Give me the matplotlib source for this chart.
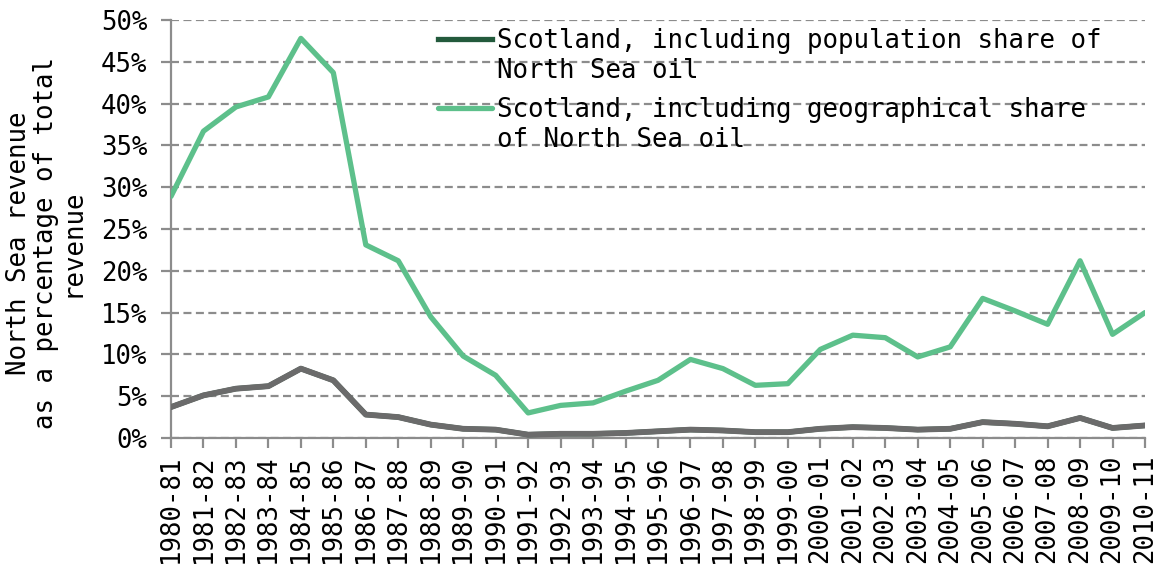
import matplotlib
matplotlib.use('agg')
import matplotlib.pyplot as plt
from matplotlib.legend_handler import HandlerLine2D
from matplotlib.ticker import PercentFormatter, MultipleLocator

years = ['1980-81', '1981-82', '1982-83', '1983-84', '1984-85', '1985-86',
         '1986-87', '1987-88', '1988-89', '1989-90', '1990-91', '1991-92',
         '1992-93', '1993-94', '1994-95', '1995-96', '1996-97', '1997-98',
         '1998-99', '1999-00', '2000-01', '2001-02', '2002-03', '2003-04',
         '2004-05', '2005-06', '2006-07', '2007-08', '2008-09', '2009-10',
         '2010-11']

population_share = [3.7, 5.1, 5.9, 6.2, 8.3, 6.9, 2.8, 2.5, 1.6, 1.1, 1.0, 0.4,
                    0.5, 0.5, 0.6, 0.8, 1.0, 0.9, 0.7, 0.7, 1.1, 1.3, 1.2, 1.0,
                    1.1, 1.9, 1.7, 1.4, 2.4, 1.2, 1.5]

geographical_share = [28.9, 36.7, 39.6, 40.8, 47.8, 43.7, 23.1, 21.2, 14.5, 9.8,
                      7.5, 3.0, 3.9, 4.2, 5.6, 6.9, 9.4, 8.3, 6.3, 6.5, 10.6,
                      12.3, 12.0, 9.7, 10.9, 16.7, 15.2, 13.6, 21.2, 12.4, 15.0]

labels = ['Scotland, including population share of\nNorth Sea oil',
          'Scotland, including geographical share\nof North Sea oil']

FONT = 'DejaVu Sans Mono'
FS = 18.5
AXC = '#8c8c8c'


class TopLineHandler(HandlerLine2D):
    # put the legend line level with the first text line
    def create_artists(self, legend, orig_handle, xdescent, ydescent,
                       width, height, fontsize, trans):
        arts = super().create_artists(legend, orig_handle, xdescent, ydescent,
                                      width, height, fontsize, trans)
        for a in arts:
            a.set_ydata([y + fontsize * 0.7 for y in a.get_ydata()])
        return arts


plt.rcParams['font.family'] = FONT

fig = plt.figure(figsize=(11.61, 5.70), dpi=100)
ax = fig.add_axes([171 / 1161, 1 - 438 / 570, 974 / 1161, 418 / 570])

x = list(range(len(years)))
ax.plot(x, geographical_share, color='#5dc08b', lw=3.8, solid_capstyle='round',
        label=labels[1], zorder=3)
ax.plot(x, population_share, color='#235a3c', lw=3.8, label=labels[0], zorder=3)
ax.plot(x, population_share, color='#6b6b6b', lw=4.2, zorder=4)

ax.set_xlim(0, len(years) - 1)
ax.set_ylim(0, 50)
ax.yaxis.set_major_locator(MultipleLocator(5))
ax.yaxis.set_major_formatter(PercentFormatter(decimals=0))
ax.set_xticks(x)
ax.set_xticklabels(years, rotation=90, fontsize=FS, family=FONT)
for t in ax.get_yticklabels():
    t.set_fontsize(FS)

ax.grid(axis='y', color=AXC, lw=1.6, linestyle=(0, (3.6, 2.0)))
ax.set_axisbelow(True)
for s in ['top', 'right']:
    ax.spines[s].set_visible(False)
for s in ['left', 'bottom']:
    ax.spines[s].set_color(AXC)
    ax.spines[s].set_linewidth(1.6)
ax.tick_params(axis='y', color=AXC, width=1.6, length=7, direction='out',
               pad=10)
ax.tick_params(axis='x', color=AXC, width=1.6, length=7, direction='out',
               pad=5)

ax.set_ylabel('North Sea revenue\nas a percentage of total\nrevenue',
              fontsize=FS, linespacing=1.05)
ax.yaxis.set_label_coords((86 - 171) / 974, (438 - 243) / 418)

handles, lbls = ax.get_legend_handles_labels()
leg = ax.legend(handles[::-1], lbls[::-1], loc='upper left',
                bbox_to_anchor=((438 - 171) / 974, (438 - 28) / 418),
                frameon=False, fontsize=FS, handlelength=2.1,
                handletextpad=0.2, borderpad=0, borderaxespad=0,
                labelspacing=0.5,
                handler_map={matplotlib.lines.Line2D: TopLineHandler()})

fig.savefig('out.png', dpi=100)
